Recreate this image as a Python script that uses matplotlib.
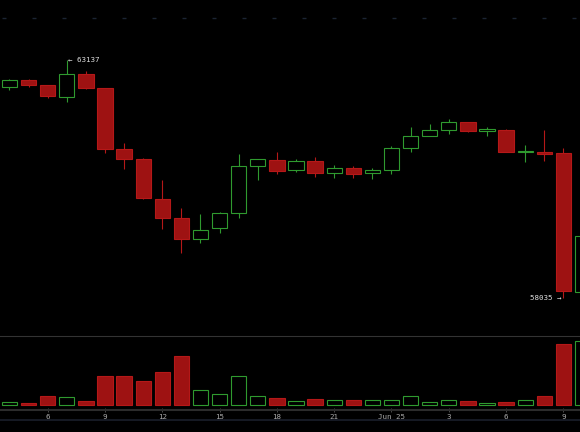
import matplotlib
matplotlib.use('Agg')
import matplotlib.pyplot as plt
from matplotlib.lines import Line2D

# hourly candles, Jun 24 04:00 -> Jun 25 10:00
opens  = [62565, 62708, 62600, 62350, 62830, 62530, 61222, 61008, 60163, 59743,
          59306, 59542, 59850, 60858, 60993, 60772, 60965, 60721, 60815, 60708,
          60785, 61257, 61501, 61630, 61801, 61621, 61636, 61158, 61171, 61137, 58169]
highs  = [62730, 62719, 62605, 63137, 62895, 62540, 61357, 61036, 60571, 59964,
          59835, 59872, 61115, 61014, 61165, 61014, 61057, 60892, 60864, 60815,
          61293, 61701, 61758, 61872, 61815, 61701, 61658, 61321, 61636, 61257, 59380]
lows   = [62494, 62558, 62329, 62230, 62509, 61150, 60800, 60157, 59507, 59006,
          59207, 59421, 59743, 60564, 60699, 60729, 60635, 60614, 60607, 60586,
          60699, 61171, 61497, 61557, 61593, 61508, 61165, 60950, 60972, 58035, 58160]
closes = [62708, 62607, 62359, 62830, 62543, 61235, 61014, 60185, 59743, 59306,
          59486, 59850, 60871, 61008, 60764, 60965, 60721, 60828, 60699, 60772,
          61250, 61501, 61630, 61801, 61621, 61658, 61171, 61186, 61128, 58191, 59364]
volumes = [83, 58, 233, 208, 100, 718, 718, 600, 825, 1233,
           383, 283, 718, 233, 175, 100, 158, 118, 133, 118,
           118, 225, 68, 118, 100, 50, 83, 133, 233, 1533, 1600]

tick_pos = [2, 5, 8, 11, 14, 17, 20, 23, 26, 29]
tick_labels = ['6', '9', '12', '15', '18', '21', 'Jun 25', '3', '6', '9']

GREEN = '#2f9a2f'
RED_FACE = '#9e1212'
RED_EDGE = '#b51818'
BG = '#000000'

W, H = 580, 432
fig = plt.figure(figsize=(W / 100, H / 100), dpi=100, facecolor=BG)

# price pane: pixel rows 0..336, volume pane: 336..410
ax = fig.add_axes([0, (H - 336) / H, 1, 336 / H], facecolor=BG)
axv = fig.add_axes([0, (H - 410) / H, 1, 74 / H], facecolor=BG, sharex=ax)

x = list(range(len(opens)))
bw = 0.80

for i in x:
    o, hi, lo, c = opens[i], highs[i], lows[i], closes[i]
    up = c >= o
    col = GREEN if up else RED_EDGE
    ax.vlines(i, lo, hi, color=col, lw=0.8, zorder=1)
    bottom = min(o, c)
    height = max(abs(c - o), 8)
    if up:
        ax.bar(i, height, bw, bottom, facecolor=BG, edgecolor=GREEN, lw=0.8, zorder=2)
        axv.bar(i, volumes[i], bw, facecolor=BG, edgecolor=GREEN, lw=0.8)
    else:
        ax.bar(i, height, bw, bottom, facecolor=RED_FACE, edgecolor=RED_EDGE, lw=0.8, zorder=2)
        axv.bar(i, volumes[i], bw, facecolor=RED_FACE, edgecolor=RED_EDGE, lw=0.8)

ax.set_xlim(-0.497, 29.869)
ax.set_ylim(57220, 64423)
axv.set_ylim(-125, 1725)

# faint dashed price guide near the top
ax.axhline(64037, color='#1b2433', lw=1, linestyle=(20.16, (2.88, 18.72)))

# high / low markers
ihi = highs.index(max(highs))
ilo = lows.index(min(lows))
ax.annotate('\u2190 %d' % highs[ihi], (ihi, highs[ihi]), xytext=(1.2, 0),
            textcoords='offset points', ha='left', va='center',
            color='#dddddd', fontsize=5.4, family='DejaVu Sans Mono')
ax.annotate('%d \u2192' % lows[ilo], (ilo, lows[ilo]), xytext=(-1.5, 0),
            textcoords='offset points', ha='right', va='center',
            color='#dddddd', fontsize=5.4, family='DejaVu Sans Mono')

for a in (ax, axv):
    for s in a.spines.values():
        s.set_visible(False)
    a.set_yticks([])
ax.tick_params(axis='x', bottom=False, labelbottom=False)

axv.spines['bottom'].set_visible(True)
axv.spines['bottom'].set_color('#2c2c2c')
axv.spines['bottom'].set_linewidth(1.5)
axv.set_xticks(tick_pos)
axv.set_xticklabels(tick_labels)
axv.tick_params(axis='x', direction='inout', length=3, width=0.6, color='#555555',
                labelcolor='#aaaaaa', labelsize=5.4, pad=1.2)
for t in axv.get_xticklabels():
    t.set_family('DejaVu Sans Mono')

# pane separator and bottom rule
fig.add_artist(Line2D([0, 1], [(H - 336) / H] * 2, color='#333333', lw=0.8))
fig.add_artist(Line2D([0, 1], [(H - 420) / H] * 2, color='#1a1f2b', lw=1.2))

fig.savefig('out.png', dpi=100, facecolor=BG)
